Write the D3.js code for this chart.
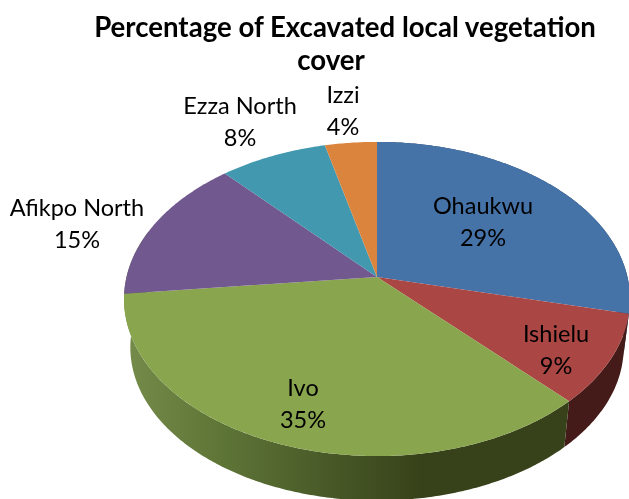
<!DOCTYPE html>
<html>
<head>
<meta charset="utf-8">
<script src="https://cdn.jsdelivr.net/npm/d3@7.9.0/dist/d3.min.js"></script>
<style>
  html, body { margin: 0; padding: 0; background: #fff; }
  svg { filter: blur(0.4px); }
  text { font-family: Lato, "Open Sans", sans-serif; fill: #000; }
</style>
</head>
<body>
<svg id="chart" width="629" height="499"></svg>
<script>
const regions = ["Ohaukwu", "Ishielu", "Ivo", "Afikpo North", "Ezza North", "Izzi"];
// read from the slice edges, the labels round these
const shares = [28.7, 9.2, 35.4, 15, 7.9, 3.8];
const titleLines = ["Percentage of Excavated local vegetation", "cover"];

const faceColors = ["#4572A7", "#AA4643", "#89A54E", "#71588F", "#4198AF", "#DB843D"];
const sideColors = ["#2a4466", "#451b1a", "#38421a"];
// where each label sits, picked by eye
const labelPos = [[483, 222], [556, 350], [303, 404], [77, 224], [240, 122], [343, 111]];

const svg = d3.select("#chart");

// --- tilted disc: unit circle pushed through a perspective ---
const cx = 377, cy = 277;
const a = 250.5, b = 154, k = -0.14;
const depth = 49, shrink = 0.975;

function project(angle, s = 1, dy = 0) {
  const u = Math.sin(angle), v = -Math.cos(angle);
  const w = 1 + k * v;
  return [cx + s * a * u / w, cy + dy + s * b * v / w];
}

const pie = d3.pie().sort(null);
const arcs = pie(shares);
const line = d3.line();

function sample(start, end) {
  const n = Math.max(2, Math.ceil((end - start) / 0.01));
  return d3.range(n + 1).map(i => start + (end - start) * i / n);
}

// --- side wall: only the slices facing front, Ivo runs on to the left silhouette ---
const defs = svg.append("defs");
const grad = defs.append("linearGradient")
  .attr("id", "ivoSide")
  .attr("gradientUnits", "userSpaceOnUse")
  .attr("x1", 130).attr("x2", 420).attr("y1", 0).attr("y2", 0);
grad.append("stop").attr("offset", "0%").attr("stop-color", "#738a49");
grad.append("stop").attr("offset", "30%").attr("stop-color", "#5f7638");
grad.append("stop").attr("offset", "70%").attr("stop-color", "#475826");
grad.append("stop").attr("offset", "100%").attr("stop-color", "#38421a");

const sides = svg.append("g");
sideColors.forEach((color, i) => {
  const d = arcs[i];
  const end = regions[i] === "Ivo" ? Math.PI * 1.6 : d.endAngle;
  const angles = sample(d.startAngle, end);
  const top = angles.map(t => project(t));
  const bottom = angles.map(t => project(t, shrink, depth)).reverse();
  sides.append("path")
    .attr("d", line(top.concat(bottom)) + "Z")
    .attr("fill", regions[i] === "Ivo" ? "url(#ivoSide)" : color);
});

// --- top face ---
const faces = svg.append("g");
arcs.forEach((d, i) => {
  const rim = sample(d.startAngle, d.endAngle).map(t => project(t));
  faces.append("path")
    .attr("d", line([[cx, cy]].concat(rim)) + "Z")
    .attr("fill", faceColors[i]);
});

// --- labels ---
const labels = svg.append("g")
  .attr("text-anchor", "middle")
  .style("font-size", "23.5px");
regions.forEach((name, i) => {
  const [x, y] = labelPos[i];
  const t = labels.append("text");
  t.append("tspan").attr("x", x).attr("y", y - 8).text(name);
  t.append("tspan").attr("x", x).attr("y", y + 24).text(shares[i].toFixed(0) + "%");
});

// --- title ---
svg.append("g")
  .attr("text-anchor", "middle")
  .style("font-size", "27.6px")
  .style("font-weight", "700")
  .selectAll("text")
  .data(titleLines)
  .join("text")
  .attr("x", (d, i) => i ? 331 : 345)
  .attr("y", (d, i) => 37 + i * 33)
  .text(d => d);
</script>
</body>
</html>
